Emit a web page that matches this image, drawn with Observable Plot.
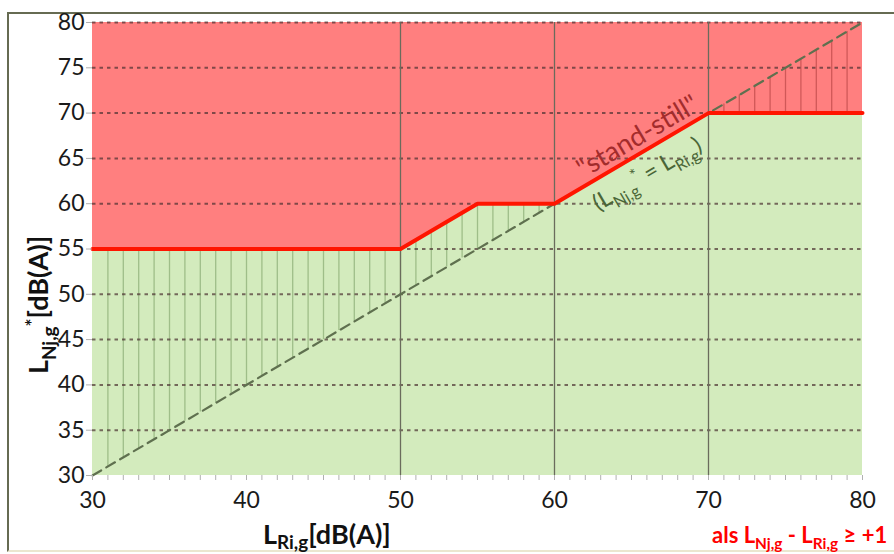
<!DOCTYPE html>
<html><head><meta charset="utf-8">
<script src="https://cdn.jsdelivr.net/npm/d3@7"></script>
<script src="https://cdn.jsdelivr.net/npm/@observablehq/plot@0.6"></script>
<style>
body{margin:0;background:#fff;}
#wrap{position:relative;width:894px;height:554px;overflow:hidden;}
#frame{position:absolute;left:7px;top:12px;width:920px;height:536px;border-left:2px solid #666b52;border-top:2px solid #666b52;border-bottom:2px solid #ebe6cf;}
#wrap svg{position:absolute;left:0;top:0;}
</style></head>
<body><div id="wrap"><div id="frame"></div></div>
<script>
const xTicks = [30, 40, 50, 60, 70, 80];
const yTicks = [30, 35, 40, 45, 50, 55, 60, 65, 70, 75, 80];
const minorX = [30,31,32,33,34,35,36,37,38,39,40,41,42,43,44,45,46,47,48,49,50,51,52,53,54,55,56,57,58,59,60,61,62,63,64,65,66,67,68,69,70,71,72,73,74,75,76,77,78,79,80];
const limitX = [30, 50, 55, 60, 70, 80];
const limitY = [55, 55, 60, 60, 70, 70];
const diagX = [30, 80];
const gridX = [50, 60, 70];
const hatchX = minorX.filter(v => v > 30 && v < 80);

const limit = limitX.map((x, i) => ({x, y: limitY[i]}));
const diag = diagX.map(v => ({x: v, y: v}));
const limitAt = d3.scaleLinear().domain(limitX).range(limitY);
const F = "Lato, 'Open Sans', sans-serif";

const plot = Plot.plot({
  width: 894, height: 554,
  marginLeft: 92, marginRight: 32, marginTop: 22, marginBottom: 79,
  x: {domain: [30, 80], label: null},
  y: {domain: [30, 80], label: null},
  style: {fontFamily: F, fontSize: "22px", color: "#1a1a1a", background: "transparent", overflow: "visible"},
  marks: [
    Plot.rect([0], {x1: 30, x2: 80, y1: 30, y2: 80, fill: "#ff7f7f"}),
    Plot.areaY(limit, {x: "x", y1: 30, y2: "y", fill: "#d3ebbd"}),
    Plot.ruleX(hatchX.filter(v => v < 60), {x: d => d, y1: d => d, y2: d => limitAt(d), stroke: "#9fbe89", strokeWidth: 1.3}),
    Plot.ruleX(hatchX.filter(v => v > 70), {x: d => d, y1: d => limitAt(d), y2: d => d, stroke: "#d05858", strokeWidth: 1.3}),
    Plot.ruleY(yTicks.filter(v => v > 30), {y: d => d, stroke: "#4a3030", strokeOpacity: 0.7, strokeDasharray: "3.5,4", strokeWidth: 2}),
    Plot.ruleX(gridX, {x: d => d, stroke: "#6a6b5c", strokeWidth: 1.3}),
    Plot.line(diag, {x: "x", y: "y", stroke: "#5f704f", strokeWidth: 2.2, strokeDasharray: "10,6"}),
    Plot.line(limit, {x: "x", y: "y", stroke: "#ff1500", strokeWidth: 4}),
    Plot.axisX({ticks: minorX, tickSize: 5, tickFormat: () => "", stroke: "#b0b0b0", label: null}),
    Plot.axisX({ticks: xTicks, tickSize: 0, tickPadding: 16, fontSize: 23, label: null}),
    Plot.axisY({ticks: yTicks, tickSize: 6, tickPadding: 2, fontSize: 23, stroke: "#b0b0b0", label: null}),
    Plot.text(["\"stand-still\""], {x: 65.4, y: 67.4, text: d => d, rotate: -30.5, fill: "#a32c2c", fontSize: 27})
  ]
});
document.getElementById("wrap").appendChild(plot);

function rich(svg, parts, {x, y, size, weight = "normal", fill = "#000", anchor = "start", rotate = 0, subShift = 0.3}) {
  const t = d3.select(svg).append("text")
    .attr("transform", `translate(${x},${y}) rotate(${rotate})`)
    .attr("text-anchor", anchor).attr("font-size", size).attr("font-weight", weight)
    .attr("fill", fill).attr("font-family", F);
  let cur = 0;
  for (const p of parts) {
    const target = p.sub ? size * subShift : p.sup ? -size * 0.35 : 0;
    t.append("tspan").attr("dy", target - cur)
      .attr("font-size", (p.sub || p.sup) ? size * 0.7 : size).text(p.t);
    cur = target;
  }
}
const sx = plot.scale("x"), sy = plot.scale("y");
rich(plot, [{t: "(L"}, {t: "Nj,g", sub: true}, {t: "*", sup: true}, {t: " = L"}, {t: "Ri,g", sub: true}, {t: ")"}],
  {x: sx.apply(66.3), y: sy.apply(62.5), size: 23, fill: "#4a6637", anchor: "middle", rotate: -30.5});
rich(plot, [{t: "L"}, {t: "Nj,g", sub: true}, {t: "*", sup: true}, {t: "[dB(A)]"}],
  {x: 48, y: 305, size: 27, weight: "bold", fill: "#111", anchor: "middle", rotate: -90});
rich(plot, [{t: "L"}, {t: "Ri,g", sub: true}, {t: "[dB(A)]"}],
  {x: 263, y: 544, size: 27, weight: "bold", fill: "#111", subShift: 0.2});
rich(plot, [{t: "als L"}, {t: "Nj,g", sub: true}, {t: " - L"}, {t: "Ri,g", sub: true}, {t: " \u2265 +1"}],
  {x: 712, y: 543, size: 22, weight: "bold", fill: "#ff0000", subShift: 0.25});
</script></body></html>
